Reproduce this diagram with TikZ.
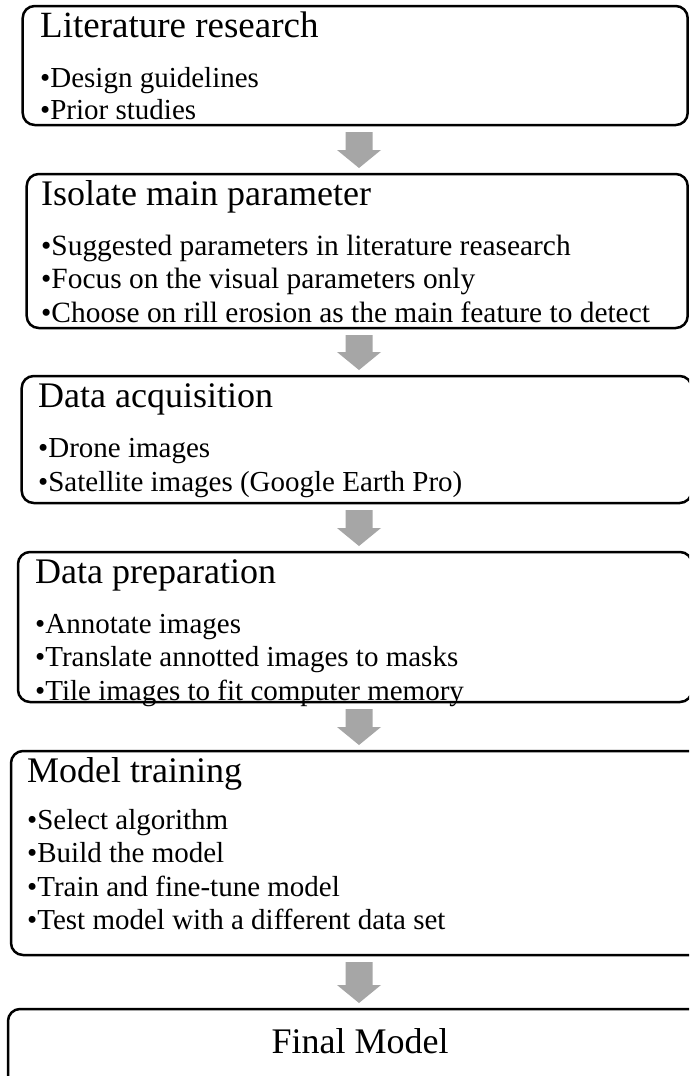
\documentclass[tikz,border=0pt]{standalone}
\usepackage{fontspec}
\setmainfont{Liberation Serif}
\usetikzlibrary{calc}
\definecolor{arrowgray}{HTML}{A6A6A6}
\tikzset{
  stepbox/.style={draw=black, line width=2.5pt, rounded corners=12pt, anchor=north west, inner sep=0pt, outer sep=0pt},
  ttl/.style={anchor=base west, inner sep=0pt, font=\fontsize{36}{40}\selectfont},
  itm/.style={anchor=base west, inner sep=0pt, font=\fontsize{29}{33}\selectfont},
  flowarrow/.style={fill=arrowgray, draw=none}
}
\newcommand{\flowarrowdraw}[2]{%
  \fill[flowarrow] ($(#1.south -| ax)+(-13.5,7)$) -- ($(#1.south -| ax)+(13.5,7)$)
    -- ($(#2.north -| ax)+(13.5,-24)$) -- ($(#2.north -| ax)+(22,-24)$)
    -- ($(#2.north -| ax)+(0,-6)$) -- ($(#2.north -| ax)+(-22,-24)$)
    -- ($(#2.north -| ax)+(-13.5,-24)$) -- cycle;}
\begin{document}
\begin{tikzpicture}[x=1pt,y=-1pt]
\useasboundingbox (0,0) rectangle (689,1076);
\clip (0,0) rectangle (689,1076);
\fill[white] (0,0) rectangle (689,1076);
\coordinate (ax) at (359,0);

% Box 1
\node[stepbox, minimum width=665pt, minimum height=119pt] (b1) at (22.7,6) {};
\node[ttl, font=\fontsize{37}{40}\selectfont] (t1) at (40,37) {Literature research};
\node[itm] (t1a) at (40,87) {•Design guidelines};
\node[itm] (t1b) at (40,119.5) {•Prior studies};

% Box 2
\node[stepbox, minimum width=661pt, minimum height=154pt] (b2) at (26.7,174) {};
\node[ttl] (t2) at (41,205) {Isolate main parameter};
\node[itm, font=\fontsize{29.4}{33}\selectfont] (t2a) at (41,255) {•Suggested parameters in literature reasearch};
\node[itm, font=\fontsize{29.4}{33}\selectfont] (t2b) at (41,288.5) {•Focus on the visual parameters only};
\node[itm, font=\fontsize{29.4}{33}\selectfont] (t2c) at (41,322) {•Choose on rill erosion as the main feature to detect};

% Box 3
\node[stepbox, minimum width=670pt, minimum height=127pt] (b3) at (21.7,376) {};
\node[ttl] (t3) at (38,407) {Data acquisition};
\node[itm] (t3a) at (38,457) {•Drone images};
\node[itm] (t3b) at (38,491) {•Satellite images (Google Earth Pro)};

% Box 4
\node[stepbox, minimum width=674pt, minimum height=150pt] (b4) at (18,552) {};
\node[ttl] (t4) at (35,583) {Data preparation};
\node[itm] (t4a) at (35,633) {•Annotate images};
\node[itm] (t4b) at (35,666.5) {•Translate annotted images to masks};
\node[itm] (t4c) at (35,700) {•Tile images to fit computer memory};

% Box 5
\node[stepbox, minimum width=700pt, minimum height=204pt] (b5) at (11,751) {};
\node[ttl] (t5) at (27,782) {Model training};
\node[itm] (t5a) at (27,829) {•Select algorithm};
\node[itm] (t5b) at (27,862.5) {•Build the model};
\node[itm] (t5c) at (27,896) {•Train and fine-tune model};
\node[itm] (t5d) at (27,929.5) {•Test model with a different data set};

% Box 6
\node[stepbox, minimum width=703pt, minimum height=100pt] (b6) at (8,1009) {};
\node[anchor=base, inner sep=0pt, font=\fontsize{36}{40}\selectfont] (t6) at (360,1053) {Final Model};

% Arrows
\flowarrowdraw{b1}{b2}
\flowarrowdraw{b2}{b3}
\flowarrowdraw{b3}{b4}
\flowarrowdraw{b4}{b5}
\flowarrowdraw{b5}{b6}
\end{tikzpicture}
\end{document}
